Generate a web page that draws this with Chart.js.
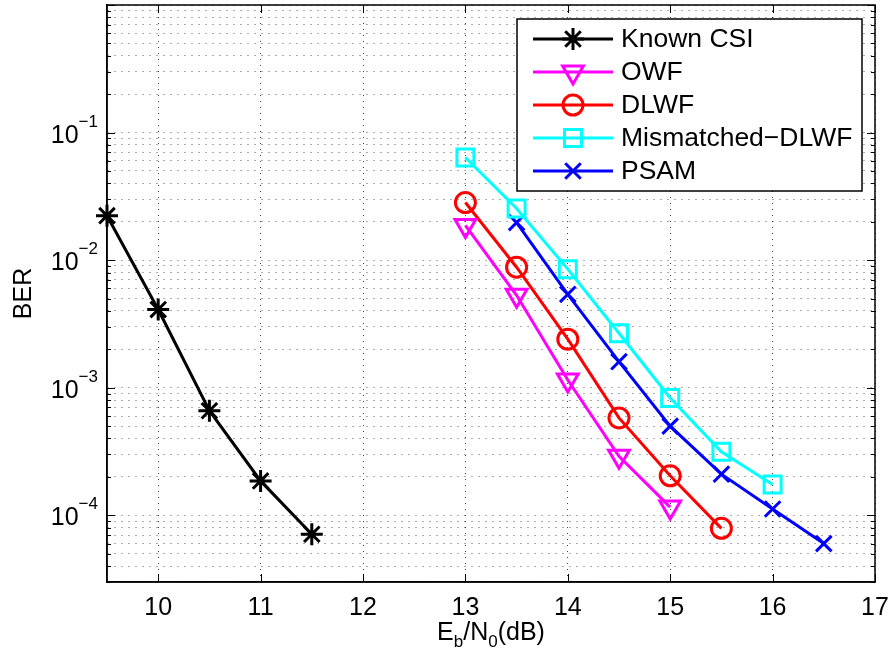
<!DOCTYPE html>
<html>
<head>
<meta charset="utf-8">
<script src="https://cdn.jsdelivr.net/npm/chart.js@4.4.0/dist/chart.umd.min.js"></script>
<style>
    html, body { margin: 0; padding: 0; background: #fff; }
    #wrap { width: 891px; height: 655px; }
</style>
</head>
<body>
<div id="wrap"><canvas id="ber-chart" width="891" height="655"></canvas></div>
<script>
// Eb/N0 (dB) and BER values
const snrKnown = [9.5, 10, 10.5, 11, 11.5];
const berKnown = [0.0223, 0.0041, 6.6e-4, 1.86e-4, 7.1e-5];
const snrOwf = [13, 13.5, 14, 14.5, 15];
const berOwf = [0.0187, 5.3e-3, 1.15e-3, 2.9e-4, 1.16e-4];
const snrDlwf = [13, 13.5, 14, 14.5, 15, 15.5];
const berDlwf = [0.0283, 8.8e-3, 2.4e-3, 5.8e-4, 2.04e-4, 7.9e-5];
const snrMismatched = [13, 13.5, 14, 14.5, 15, 15.5, 16];
const berMismatched = [0.0637, 0.0254, 8.5e-3, 2.67e-3, 8.3e-4, 3.15e-4, 1.74e-4];
const snrPsam = [13.5, 14, 14.5, 15, 15.5, 16, 16.5];
const berPsam = [0.0197, 5.4e-3, 1.6e-3, 5.0e-4, 2.1e-4, 1.12e-4, 6.0e-5];

const xTicks = [10, 11, 12, 13, 14, 15, 16, 17];
const yDecades = [-1, -2, -3, -4];
const xTitle = [['E', 0], ['b', 1], ['/N', 0], ['0', 1], ['(dB)', 0]];
const yTitle = 'BER';

const FONT = '"Liberation Sans", Arial, Helvetica, sans-serif';

// minor + major positions of the log axis, 3e-5 .. 1
const yGridTicks = [];
for (let e = -5; e <= 0; e++) {
    for (let m = 1; m <= 9; m++) {
        const v = parseFloat((m * Math.pow(10, e)).toPrecision(3));
        if (v >= 3e-5 && v <= 1) yGridTicks.push(v);
    }
}

function series(xs, ys) {
    return xs.map((x, i) => ({ x, y: ys[i] }));
}

const datasets = [
    { label: 'Known CSI', data: series(snrKnown, berKnown), borderColor: '#000000', pointStyle: 'star', pointRadius: 11, pointRotation: 0 },
    { label: 'OWF', data: series(snrOwf, berOwf), borderColor: '#ff00ff', pointStyle: 'triangle', pointRadius: 12, pointRotation: 180 },
    { label: 'DLWF', data: series(snrDlwf, berDlwf), borderColor: '#ff0000', pointStyle: 'circle', pointRadius: 10, pointRotation: 0 },
    { label: 'Mismatched\u2212DLWF', data: series(snrMismatched, berMismatched), borderColor: '#00ffff', pointStyle: 'rect', pointRadius: 12, pointRotation: 0 },
    { label: 'PSAM', data: series(snrPsam, berPsam), borderColor: '#0000ff', pointStyle: 'crossRot', pointRadius: 11, pointRotation: 0 }
].map(ds => Object.assign(ds, {
    borderWidth: 3,
    pointBorderWidth: 3,
    pointBorderColor: ds.borderColor,
    pointBackgroundColor: 'rgba(0,0,0,0)',
    pointHoverRadius: ds.pointRadius,
    backgroundColor: 'rgba(0,0,0,0)',
    tension: 0,
    clip: false
}));

function legendMarker(ctx, ds, x, y) {
    if (Chart.helpers && Chart.helpers.drawPoint) {
        Chart.helpers.drawPoint(ctx, {
            pointStyle: ds.pointStyle, rotation: ds.pointRotation,
            radius: ds.pointRadius, borderWidth: 3
        }, x, y);
    }
}

// matlab style box, inward ticks, labels and legend
const matlabAxes = {
    id: 'matlabAxes',
    afterDraw(chart) {
        const ctx = chart.ctx;
        const area = chart.chartArea;
        const xs = chart.scales.x;
        const ys = chart.scales.y;

        ctx.save();
        ctx.strokeStyle = '#000';
        ctx.lineWidth = 1.5;
        ctx.strokeRect(area.left, area.top, area.right - area.left, area.bottom - area.top);

        ctx.lineWidth = 1;
        ctx.beginPath();
        xTicks.forEach(v => {
            const px = Math.round(xs.getPixelForValue(v)) + 0.5;
            ctx.moveTo(px, area.bottom); ctx.lineTo(px, area.bottom - 8);
            ctx.moveTo(px, area.top); ctx.lineTo(px, area.top + 8);
        });
        yGridTicks.forEach(v => {
            const py = Math.round(ys.getPixelForValue(v)) + 0.5;
            const major = Math.abs(Math.log10(v) - Math.round(Math.log10(v))) < 1e-6;
            const len = major ? 8 : 4;
            ctx.moveTo(area.left, py); ctx.lineTo(area.left + len, py);
            ctx.moveTo(area.right, py); ctx.lineTo(area.right - len, py);
        });
        ctx.stroke();

        ctx.fillStyle = '#000';
        // x tick labels
        ctx.font = '25px ' + FONT;
        ctx.textAlign = 'center';
        ctx.textBaseline = 'alphabetic';
        xTicks.forEach(v => ctx.fillText(String(v), xs.getPixelForValue(v), 615));

        // y tick labels 10^k
        yDecades.forEach(k => {
            const py = ys.getPixelForValue(Math.pow(10, k));
            ctx.textAlign = 'right';
            ctx.font = '17px ' + FONT;
            const exp = '\u2212' + String(-k);
            const expW = ctx.measureText(exp).width;
            ctx.fillText(exp, 98, py - 6);
            ctx.font = '25px ' + FONT;
            ctx.fillText('10', 98 - expW, py + 10);
        });

        // x title with subscripts
        let total = 0;
        xTitle.forEach(([t, sub]) => {
            ctx.font = (sub ? '17px ' : '25px ') + FONT;
            total += ctx.measureText(t).width;
        });
        let cx = (area.left + area.right) / 2 - total / 2;
        ctx.textAlign = 'left';
        xTitle.forEach(([t, sub]) => {
            ctx.font = (sub ? '17px ' : '25px ') + FONT;
            ctx.fillText(t, cx, sub ? 647 : 640);
            cx += ctx.measureText(t).width;
        });

        // y title
        ctx.save();
        ctx.translate(31, (area.top + area.bottom) / 2);
        ctx.rotate(-Math.PI / 2);
        ctx.font = '25px ' + FONT;
        ctx.textAlign = 'center';
        ctx.fillText(yTitle, 0, 0);
        ctx.restore();

        // legend box
        const box = { left: 517, top: 19, right: 862, bottom: 191 };
        ctx.fillStyle = '#fff';
        ctx.fillRect(box.left, box.top, box.right - box.left, box.bottom - box.top);
        ctx.strokeStyle = '#000';
        ctx.lineWidth = 1.5;
        ctx.strokeRect(box.left, box.top, box.right - box.left, box.bottom - box.top);
        chart.data.datasets.forEach((ds, i) => {
            const ry = 39 + i * 33;
            ctx.strokeStyle = ds.borderColor;
            ctx.lineWidth = 3;
            ctx.beginPath();
            ctx.moveTo(533, ry); ctx.lineTo(613, ry);
            ctx.stroke();
            ctx.fillStyle = 'rgba(0,0,0,0)';
            legendMarker(ctx, ds, 573, ry);
            ctx.fillStyle = '#000';
            ctx.font = '26.5px ' + FONT;
            ctx.textAlign = 'left';
            ctx.textBaseline = 'middle';
            ctx.fillText(ds.label, 621, ry + 1);
            ctx.textBaseline = 'alphabetic';
        });
        ctx.restore();
    }
};

new Chart(document.getElementById('ber-chart'), {
    type: 'line',
    data: { datasets },
    plugins: [matlabAxes],
    options: {
        responsive: false,
        animation: false,
        events: [],
        layout: { autoPadding: false, padding: { left: 0, right: 16, top: 5, bottom: 0 } },
        plugins: { legend: { display: false }, tooltip: { enabled: false } },
        scales: {
            x: {
                type: 'linear',
                min: 9.5,
                max: 17,
                afterBuildTicks: scale => { scale.ticks = xTicks.map(v => ({ value: v })); },
                afterFit: scale => { scale.height = 73; },
                ticks: { display: false },
                grid: { color: 'rgba(0,0,0,0.75)', lineWidth: 1, drawTicks: false },
                border: { display: true, color: '#000', width: 1.5, dash: [1, 5] }
            },
            y: {
                type: 'logarithmic',
                min: 3e-5,
                max: 1,
                afterBuildTicks: scale => { scale.ticks = yGridTicks.map(v => ({ value: v })); },
                afterFit: scale => { scale.width = 107; },
                ticks: { display: false },
                grid: { color: 'rgba(0,0,0,0.65)', lineWidth: 1, drawTicks: false },
                border: { display: true, color: '#000', width: 1.5, dash: [1, 6] }
            }
        }
    }
});
</script>
</body>
</html>
